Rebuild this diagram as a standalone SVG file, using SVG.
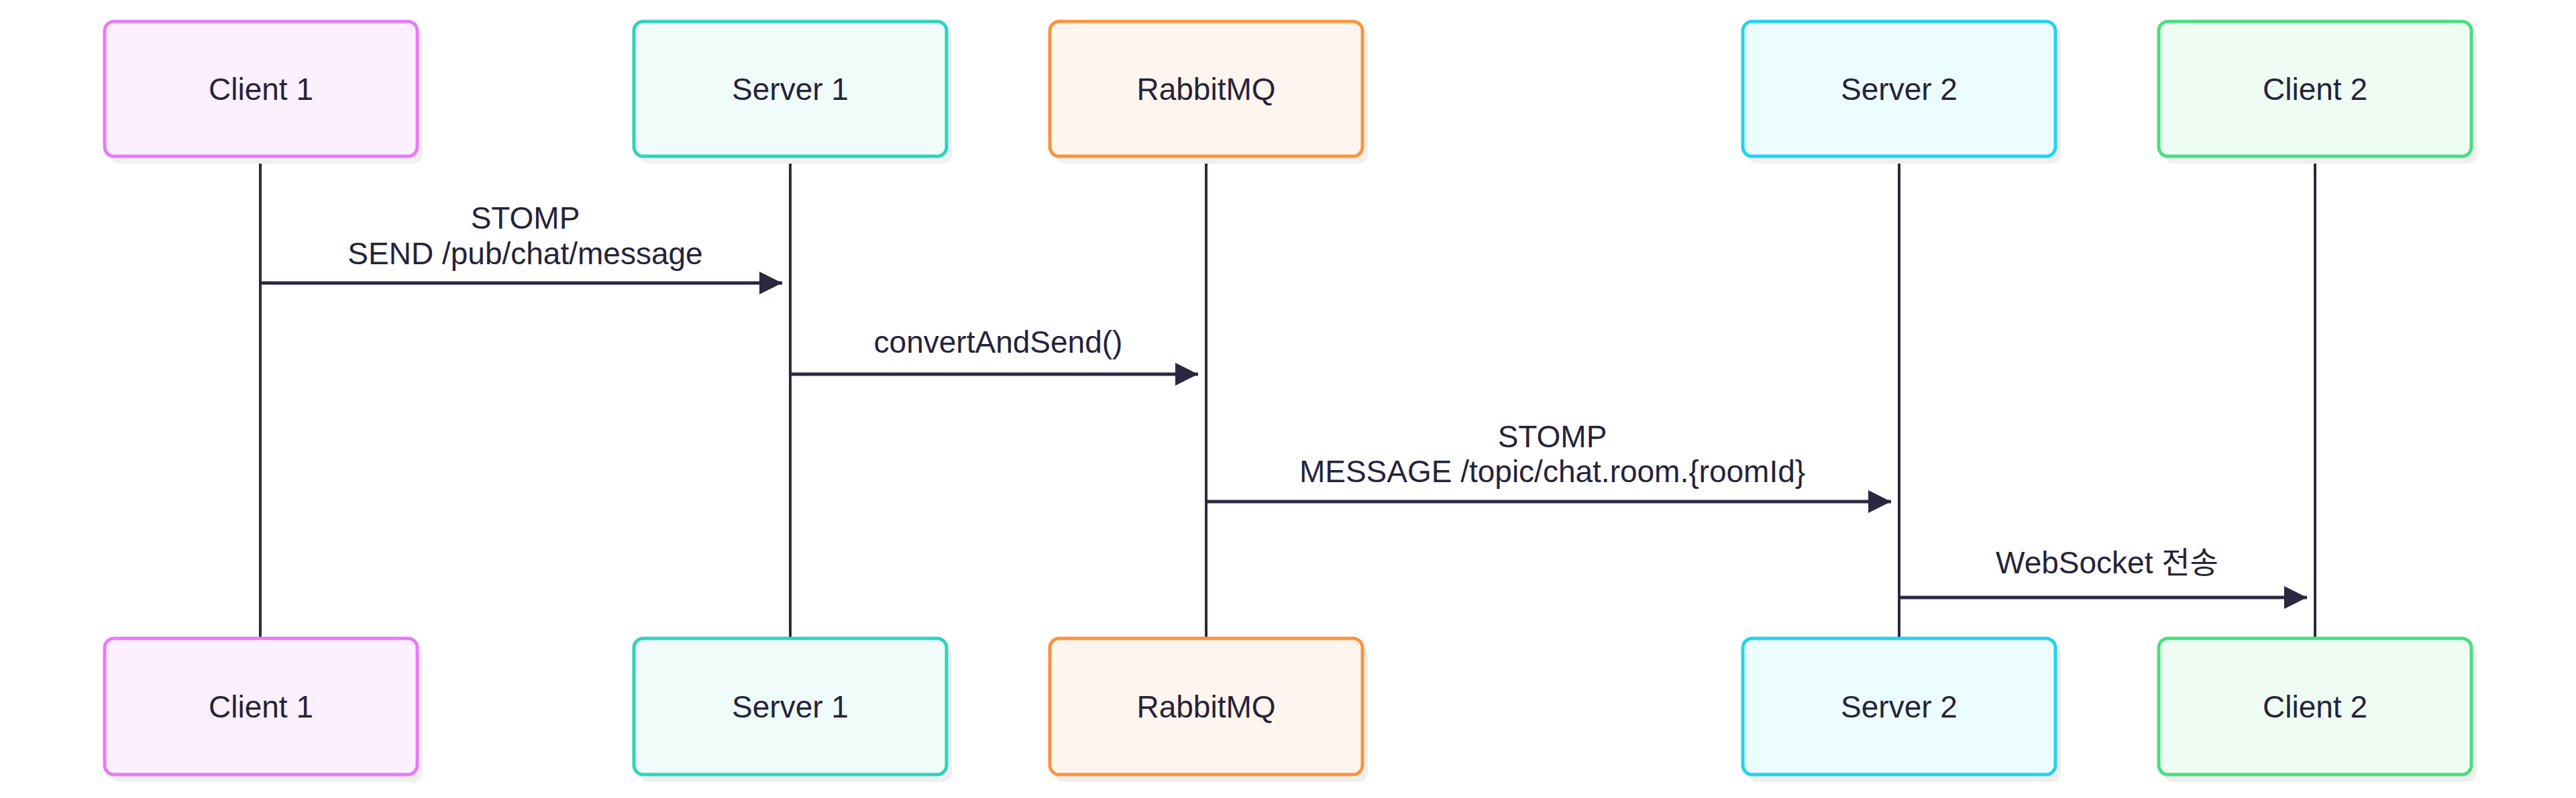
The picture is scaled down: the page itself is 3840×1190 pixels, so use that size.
<svg xmlns="http://www.w3.org/2000/svg" width="3840" height="1190" viewBox="0 0 3840 1190">
<style>
.box{stroke-width:5}
.sh{fill:#efefef}
.t{font-family:"Liberation Sans",Arial,"Noto Sans CJK KR",sans-serif;font-size:46px;fill:#25233a;text-anchor:middle}
.life{stroke:#2a2840;stroke-width:4}
.msg{stroke:#2a2840;stroke-width:5;fill:none}
</style>
<defs>
<marker id="ah" markerUnits="userSpaceOnUse" markerWidth="36" markerHeight="36" refX="34" refY="17" orient="auto"><path d="M0,0 L34,17 L0,34 Z" fill="#2a2840"/></marker>
</defs>
<g id="lifelines">
<line class="life" x1="388" y1="233" x2="388" y2="952"/>
<line class="life" x1="1178" y1="233" x2="1178" y2="952"/>
<line class="life" x1="1798" y1="233" x2="1798" y2="952"/>
<line class="life" x1="2831" y1="233" x2="2831" y2="952"/>
<line class="life" x1="3451" y1="233" x2="3451" y2="952"/>
</g>
<g id="client1-top"><rect class="sh" x="164" y="42" width="466" height="202" rx="14"/><rect class="box" x="156" y="32" width="466" height="201" rx="14" fill="#fdf0fe" stroke="#e879f9"/><text class="t" x="389" y="149">Client 1</text></g>
<g id="server1-top"><rect class="sh" x="953" y="42" width="466" height="202" rx="14"/><rect class="box" x="945" y="32" width="466" height="201" rx="14" fill="#effcf9" stroke="#2dd4bf"/><text class="t" x="1178" y="149">Server 1</text></g>
<g id="rabbitmq-top"><rect class="sh" x="1573" y="42" width="466" height="202" rx="14"/><rect class="box" x="1565" y="32" width="466" height="201" rx="14" fill="#fef6ee" stroke="#fb923c"/><text class="t" x="1798" y="149">RabbitMQ</text></g>
<g id="server2-top"><rect class="sh" x="2606" y="42" width="466" height="202" rx="14"/><rect class="box" x="2598" y="32" width="466" height="201" rx="14" fill="#ecfdff" stroke="#22d3ee"/><text class="t" x="2831" y="149">Server 2</text></g>
<g id="client2-top"><rect class="sh" x="3226" y="42" width="466" height="202" rx="14"/><rect class="box" x="3218" y="32" width="466" height="201" rx="14" fill="#effcf3" stroke="#4ade80"/><text class="t" x="3451" y="149">Client 2</text></g>
<g id="client1-bottom"><rect class="sh" x="164" y="962" width="466" height="204" rx="14"/><rect class="box" x="156" y="952" width="466" height="203" rx="14" fill="#fdf0fe" stroke="#e879f9"/><text class="t" x="389" y="1070">Client 1</text></g>
<g id="server1-bottom"><rect class="sh" x="953" y="962" width="466" height="204" rx="14"/><rect class="box" x="945" y="952" width="466" height="203" rx="14" fill="#effcf9" stroke="#2dd4bf"/><text class="t" x="1178" y="1070">Server 1</text></g>
<g id="rabbitmq-bottom"><rect class="sh" x="1573" y="962" width="466" height="204" rx="14"/><rect class="box" x="1565" y="952" width="466" height="203" rx="14" fill="#fef6ee" stroke="#fb923c"/><text class="t" x="1798" y="1070">RabbitMQ</text></g>
<g id="server2-bottom"><rect class="sh" x="2606" y="962" width="466" height="204" rx="14"/><rect class="box" x="2598" y="952" width="466" height="203" rx="14" fill="#ecfdff" stroke="#22d3ee"/><text class="t" x="2831" y="1070">Server 2</text></g>
<g id="client2-bottom"><rect class="sh" x="3226" y="962" width="466" height="204" rx="14"/><rect class="box" x="3218" y="952" width="466" height="203" rx="14" fill="#effcf3" stroke="#4ade80"/><text class="t" x="3451" y="1070">Client 2</text></g>
<g id="connectors">
<line class="msg" x1="390" y1="422" x2="1166" y2="422" marker-end="url(#ah)"/>
<text class="t" x="783" y="341">STOMP</text>
<text class="t" x="783" y="394">SEND /pub/chat/message</text>
<line class="msg" x1="1180" y1="558" x2="1786" y2="558" marker-end="url(#ah)"/>
<text class="t" x="1488" y="526">convertAndSend()</text>
<line class="msg" x1="1800" y1="748" x2="2819" y2="748" marker-end="url(#ah)"/>
<text class="t" x="2314" y="667">STOMP</text>
<text class="t" x="2314" y="719">MESSAGE /topic/chat.room.{roomId}</text>
<line class="msg" x1="2833" y1="891" x2="3439" y2="891" marker-end="url(#ah)"/>
<text class="t" x="3141" y="855">WebSocket 전송</text>
</g>
</svg>
